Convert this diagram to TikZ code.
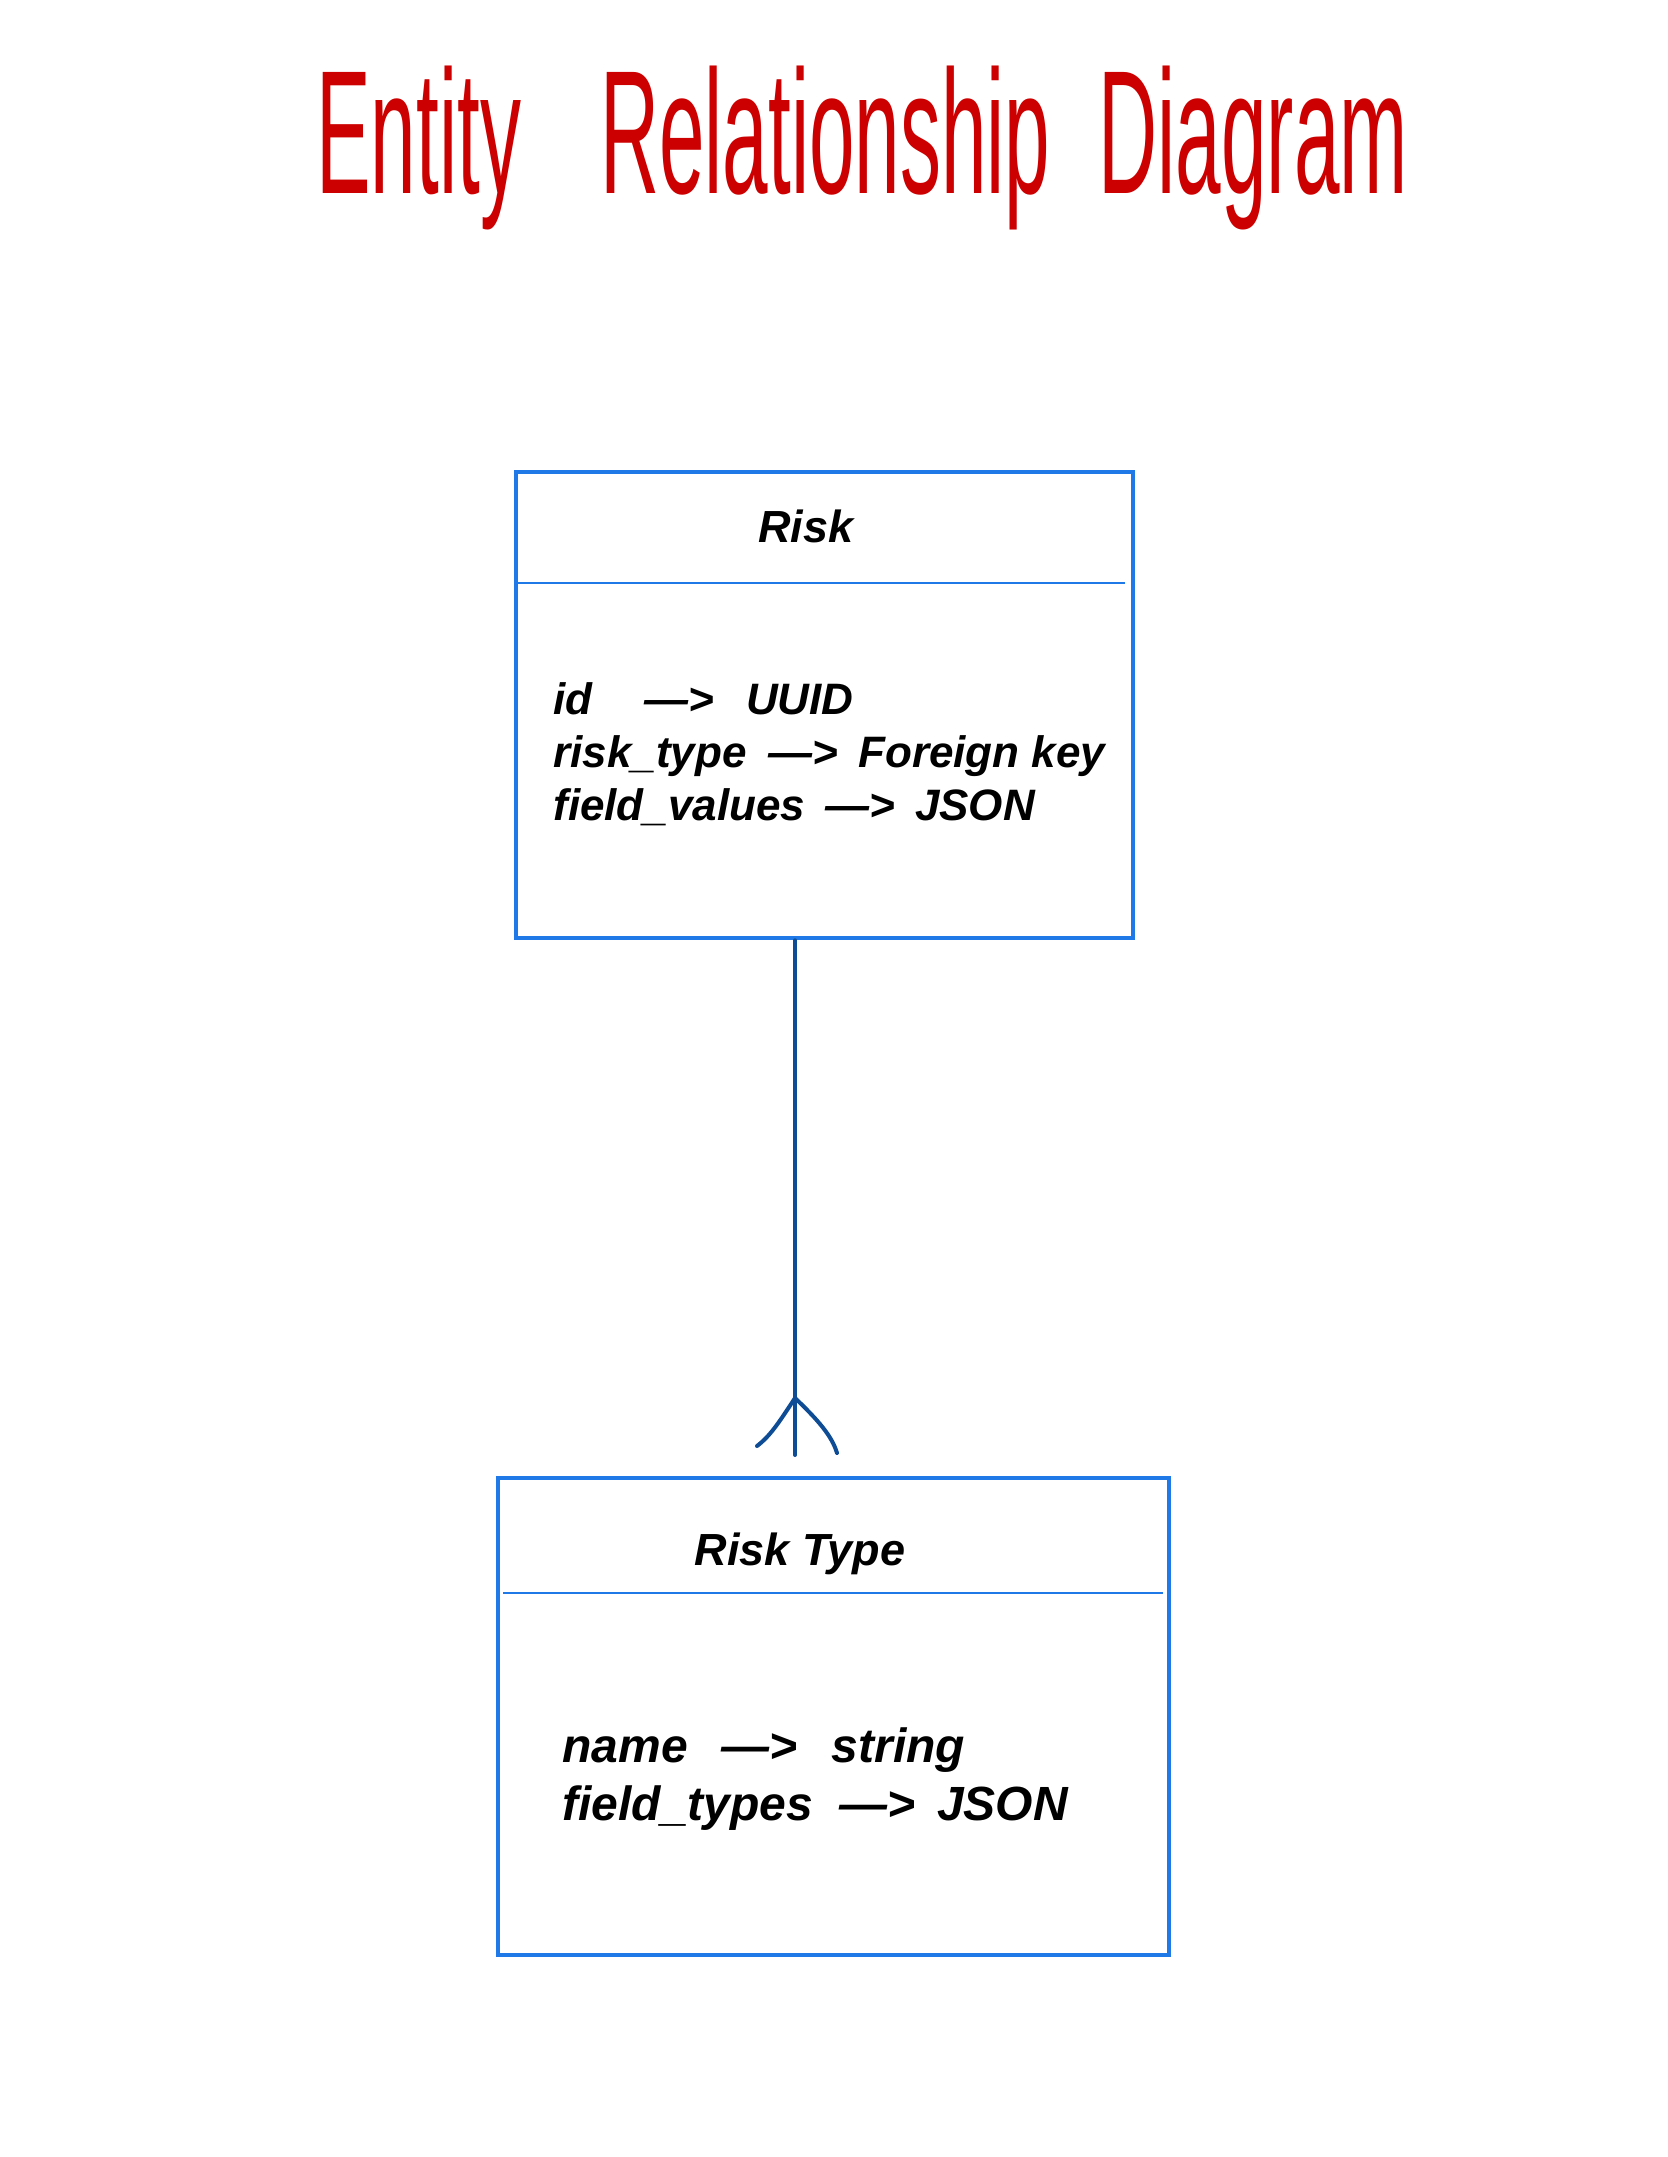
\documentclass[tikz,border=0pt]{standalone}
\usepackage{fontspec}
\setmainfont{Liberation Sans}
\definecolor{boxblue}{HTML}{1F7AE8}
\definecolor{linkblue}{HTML}{0E4C96}
\definecolor{titlered}{HTML}{CC0000}
\begin{document}
\begin{tikzpicture}[x=0.5pt,y=-0.5pt,
    entity/.style={draw=boxblue,line width=2.3pt,inner sep=0pt},
    divider/.style={draw=boxblue,line width=1.3pt},
    link/.style={draw=linkblue,line width=2pt,line cap=round},
    head/.style={font=\fontsize{22.5}{27}\selectfont\bfseries\itshape},
    attr/.style={font=\fontsize{#1}{#1}\selectfont\bfseries\itshape,inner sep=0pt},
    titletext/.style={font=\fontsize{88}{90}\selectfont,text=titlered,inner sep=0pt}]
\path[fill=white,use as bounding box] (0,0) rectangle (1668,2157);

\node[titletext,anchor=base west] (title) at (316,193)
    {\scalebox{0.465}[1]{Entity\hspace{85pt}Relationship\hspace{52pt}Diagram}};

\node[entity,minimum width=308.5pt,minimum height=233pt] (risk) at (824.5,705) {};
\draw[divider] (518,583) -- (1125,583);
\node[head,anchor=base] (riskhead) at (806,542) {Risk};
\node[attr=22,anchor=base west] (riskid) at (553,714) {id\hspace{26pt}—>\hspace{16pt}UUID};
\node[attr=22,anchor=base west] (riskfk) at (553,767) {risk\_type\hspace{11pt}—>\hspace{10pt}Foreign key};
\node[attr=22,anchor=base west] (riskvals) at (553,820) {field\_values\hspace{10pt}—>\hspace{10pt}JSON};

\node[entity,minimum width=335.5pt,minimum height=238.5pt] (risktype) at (833.5,1716.5) {};
\draw[divider] (503,1593) -- (1163,1593);
\node[head,anchor=base] (risktypehead) at (800,1565) {Risk Type};
\node[attr=24,anchor=base west] (rtname) at (562,1762) {name\hspace{17pt}—>\hspace{17pt}string};
\node[attr=24,anchor=base west] (rttypes) at (562,1820) {field\_types\hspace{13pt}—>\hspace{11pt}JSON};

\coordinate (foot) at (795,1455);
\coordinate (apex) at (795,1398);
\draw[link] (risk.south -| foot) -- (foot);
\draw[link] (apex) .. controls (778,1424) and (770,1436) .. (757,1446);
\draw[link] (apex) .. controls (818,1420) and (832,1436) .. (837,1453);
\end{tikzpicture}
\end{document}
